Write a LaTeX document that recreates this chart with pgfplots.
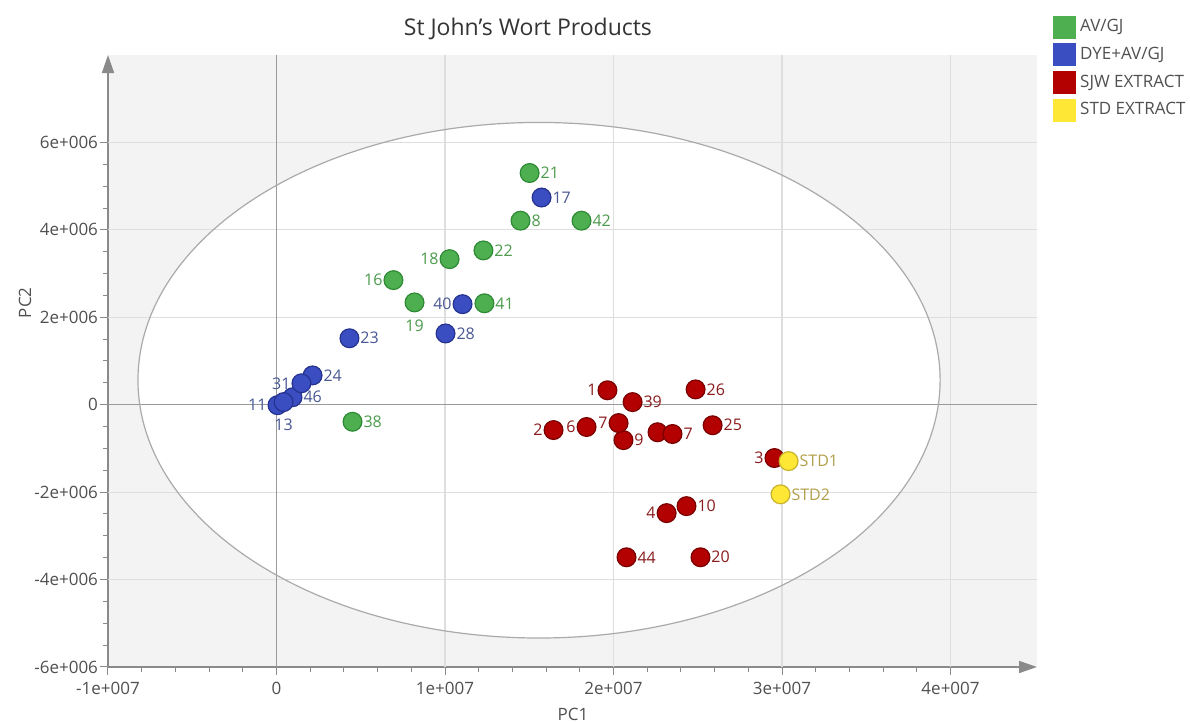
\documentclass[border=0pt]{standalone}
\usepackage{pgfplots}
\pgfplotsset{compat=1.18}
\usepackage{pgfplotstable}
\usepackage{fontspec}
\setmainfont{Open Sans}
\usetikzlibrary{arrows.meta}
\definecolor{bggray}{HTML}{F3F3F3}
\definecolor{gridgray}{HTML}{DEDEDE}
\definecolor{zerogray}{HTML}{9A9A9A}
\definecolor{axgray}{HTML}{8A8A8A}
\definecolor{txtgray}{HTML}{505050}
\definecolor{ellgray}{HTML}{AAAAAA}
\definecolor{cgreen}{HTML}{4DAF4F}
\definecolor{cgreenD}{HTML}{2F8A35}
\definecolor{cblue}{HTML}{3A4EC2}
\definecolor{cblueD}{HTML}{25338F}
\definecolor{cred}{HTML}{B30000}
\definecolor{credD}{HTML}{7A0000}
\definecolor{cyel}{HTML}{FFE835}
\definecolor{cyelD}{HTML}{C8B22A}
\definecolor{lgreen}{HTML}{4C9A4C}
\definecolor{lblue}{HTML}{4A5893}
\definecolor{lred}{HTML}{8A1C1C}
\definecolor{lyel}{HTML}{B3A04A}

% AV/GJ
\pgfplotstableread{
x y lab
1.502e7 5.30e6 21
1.448e7 4.21e6 8
1.810e7 4.21e6 42
1.228e7 3.53e6 22
1.234e7 2.32e6 41
0.451e7 -0.39e6 38
}\greenW
\pgfplotstableread{
x y lab
1.027e7 3.33e6 18
0.694e7 2.85e6 16
}\greenE
\pgfplotstableread{
x y lab
0.819e7 2.34e6 19
}\greenN

% DYE+AV/GJ
\pgfplotstableread{
x y lab
1.573e7 4.74e6 17
1.003e7 1.63e6 28
0.433e7 1.52e6 23
0.214e7 0.67e6 24
0.095e7 0.17e6 46
}\blueW
\pgfplotstableread{
x y lab
1.104e7 2.30e6 40
0.148e7 0.49e6 31
0.006e7 -0.01e6 11
}\blueE
\pgfplotstableread{
x y lab
0.042e7 0.06e6 13
}\blueN

% SJW EXTRACT
\pgfplotstableread{
x y lab
2.113e7 0.06e6 39
2.487e7 0.35e6 26
2.059e7 -0.81e6 9
2.350e7 -0.67e6 7
2.588e7 -0.47e6 25
2.433e7 -2.32e6 10
2.077e7 -3.49e6 44
2.516e7 -3.49e6 20
}\redW
\pgfplotstableread{
x y lab
1.964e7 0.33e6 1
1.644e7 -0.58e6 2
1.840e7 -0.51e6 6
2.030e7 -0.42e6 7
2.955e7 -1.22e6 3
2.315e7 -2.48e6 4
}\redE
\pgfplotstableread{
x y
2.261e7 -0.63e6
}\redN

% STD EXTRACT
\pgfplotstableread{
x y lab
3.039e7 -1.29e6 STD1
2.991e7 -2.05e6 STD2
}\yelW

\pgfplotsset{
  pts/.style={only marks, mark=*, mark size=4.7pt, line width=0.6pt, forget plot},
  lbl/.style 2 args={nodes near coords, point meta=explicit symbolic,
    every node near coord/.append style={anchor=#2, font=\fontsize{8}{9}\selectfont,
      inner sep=0.5pt, outer sep=5pt, text=#1}},
  lowlbl/.style={every node near coord/.append style={yshift=-3pt}},
}

\begin{document}
\begin{tikzpicture}
\begin{axis}[
  name=ax,
  scale only axis, width=464.5pt, height=306pt,
  xmin=-1e7, xmax=4.513e7, ymin=-6e6, ymax=8e6,
  axis x line=bottom, axis y line=left,
  axis line style={draw=axgray, line width=0.8pt, -{Triangle[length=9pt,width=6pt]}},
  axis background/.style={fill=bggray},
  xtick={-1e7,0,1e7,2e7,3e7,4e7},
  xticklabels={-1e+007,0,1e+007,2e+007,3e+007,4e+007},
  ytick={-6e6,-4e6,-2e6,0,2e6,4e6,6e6},
  yticklabels={-6e+006,-4e+006,-2e+006,0,2e+006,4e+006,6e+006},
  scaled ticks=false,
  minor x tick num=4, minor y tick num=3,
  tick align=outside,
  major tick length=4pt, minor tick length=2.5pt,
  tick style={draw=axgray, line width=0.5pt},
  tick label style={font=\fontsize{8.5}{10}\selectfont, text=txtgray},
  yticklabel style={xshift=2.5pt},
  xlabel={PC1}, ylabel={PC2},
  xlabel style={at={(axis description cs:0.5005,-0.078)}, anchor=center, font=\fontsize{8.5}{10}\selectfont, text=txtgray},
  ylabel style={at={(axis description cs:-0.0893,0.595)}, anchor=center, font=\fontsize{8.5}{10}\selectfont, text=txtgray},
  title={St John's Wort Products},
  title style={at={(axis description cs:0.452,1.0230)}, anchor=center, font=\fontsize{11.5}{13}\selectfont, text=black!80},
  legend style={at={(axis description cs:1.0172,1.0653)}, anchor=north west, draw=none, fill=none,
    font=\fontsize{8.5}{10}\selectfont, text=txtgray, cells={anchor=west}, row sep=2.2pt, inner sep=0pt},
  clip=false,
]
% ellipse region and grid
\fill[white] (axis cs:1.558e7,0.56e6) ellipse [x radius=2.38e7, y radius=5.897e6];
\draw[gridgray, line width=0.6pt] (axis cs:1e7,-6e6) -- (axis cs:1e7,8e6);
\draw[gridgray, line width=0.6pt] (axis cs:2e7,-6e6) -- (axis cs:2e7,8e6);
\draw[gridgray, line width=0.6pt] (axis cs:3e7,-6e6) -- (axis cs:3e7,8e6);
\draw[gridgray, line width=0.6pt] (axis cs:4e7,-6e6) -- (axis cs:4e7,8e6);
\draw[gridgray, line width=0.6pt] (axis cs:-1e7,-4e6) -- (axis cs:4.513e7,-4e6);
\draw[gridgray, line width=0.6pt] (axis cs:-1e7,-2e6) -- (axis cs:4.513e7,-2e6);
\draw[gridgray, line width=0.6pt] (axis cs:-1e7,2e6) -- (axis cs:4.513e7,2e6);
\draw[gridgray, line width=0.6pt] (axis cs:-1e7,4e6) -- (axis cs:4.513e7,4e6);
\draw[gridgray, line width=0.6pt] (axis cs:-1e7,6e6) -- (axis cs:4.513e7,6e6);
\draw[zerogray, line width=0.7pt] (axis cs:0,-6e6) -- (axis cs:0,8e6);
\draw[zerogray, line width=0.7pt] (axis cs:-1e7,0) -- (axis cs:4.513e7,0);
\draw[ellgray, line width=0.6pt] (axis cs:1.558e7,0.56e6) ellipse [x radius=2.38e7, y radius=5.897e6];

\addlegendimage{legend image code/.code={\fill[cgreen] (0pt,-5.5pt) rectangle (11pt,5.5pt);}}
\addlegendentry{AV/GJ}
\addlegendimage{legend image code/.code={\fill[cblue] (0pt,-5.5pt) rectangle (11pt,5.5pt);}}
\addlegendentry{DYE+AV/GJ}
\addlegendimage{legend image code/.code={\fill[cred] (0pt,-5.5pt) rectangle (11pt,5.5pt);}}
\addlegendentry{SJW EXTRACT}
\addlegendimage{legend image code/.code={\fill[cyel] (0pt,-5.5pt) rectangle (11pt,5.5pt);}}
\addlegendentry{STD EXTRACT}

\addplot[pts, draw=cgreenD, fill=cgreen, lbl={lgreen}{west}] table[x=x, y=y, meta=lab] {\greenW};
\addplot[pts, draw=cgreenD, fill=cgreen, lbl={lgreen}{east}] table[x=x, y=y, meta=lab] {\greenE};
\addplot[pts, draw=cgreenD, fill=cgreen, lbl={lgreen}{north}, lowlbl] table[x=x, y=y, meta=lab] {\greenN};
\addplot[pts, draw=cblueD, fill=cblue, lbl={lblue}{west}] table[x=x, y=y, meta=lab] {\blueW};
\addplot[pts, draw=cblueD, fill=cblue, lbl={lblue}{east}] table[x=x, y=y, meta=lab] {\blueE};
\addplot[pts, draw=cblueD, fill=cblue, lbl={lblue}{north}, lowlbl] table[x=x, y=y, meta=lab] {\blueN};
\addplot[pts, draw=credD, fill=cred] table[x=x, y=y] {\redN};
\addplot[pts, draw=credD, fill=cred, lbl={lred}{west}] table[x=x, y=y, meta=lab] {\redW};
\addplot[pts, draw=credD, fill=cred, lbl={lred}{east}] table[x=x, y=y, meta=lab] {\redE};
\addplot[pts, draw=cyelD, fill=cyel, lbl={lyel}{west}] table[x=x, y=y, meta=lab] {\yelW};
\end{axis}
\pgfresetboundingbox
\path (ax.south west) ++(-54pt,-27.5pt) rectangle ++(595pt,361pt);
\end{tikzpicture}
\end{document}
